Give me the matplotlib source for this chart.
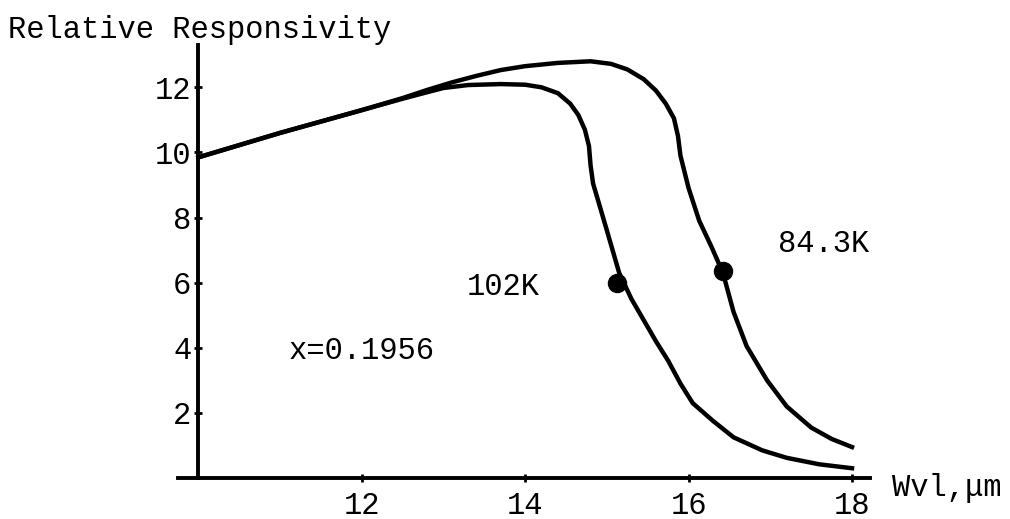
import matplotlib.pyplot as plt

plt.rcParams['font.family'] = ['Liberation Mono', 'DejaVu Sans Mono']

# 102K curve
wvl_102 = [10, 11, 12, 12.5, 12.8, 13.0, 13.3, 13.7, 14.0, 14.2, 14.4, 14.55,
           14.65, 14.73, 14.78, 14.8, 14.83, 15.0, 15.15, 15.3, 15.45, 15.6,
           15.75, 15.9, 16.05, 16.3, 16.55, 16.9, 17.2, 17.6, 18.0]
resp_102 = [9.85, 10.6, 11.3, 11.65, 11.85, 11.98, 12.07, 12.1, 12.08, 12.0, 11.82, 11.5,
            11.15, 10.7, 10.2, 9.6, 9.05, 7.6, 6.3, 5.5, 4.85, 4.2,
            3.6, 2.9, 2.3, 1.75, 1.25, 0.85, 0.62, 0.42, 0.3]

# 84.3K curve
wvl_84 = [10, 11, 12, 12.5, 12.8, 13.1, 13.4, 13.7, 14.0, 14.4, 14.8, 15.05,
          15.25, 15.45, 15.6, 15.72, 15.82, 15.87, 15.9, 16.0, 16.13, 16.28,
          16.42, 16.55, 16.71, 16.96, 17.2, 17.5, 17.75, 18.0]
resp_84 = [9.85, 10.6, 11.3, 11.67, 11.92, 12.15, 12.35, 12.53, 12.65, 12.75, 12.8, 12.72,
           12.55, 12.25, 11.9, 11.5, 11.05, 10.5, 9.9, 8.9, 7.9, 7.1,
           6.3, 5.1, 4.05, 3.0, 2.2, 1.55, 1.2, 0.95]

# marked points
dot_x = [15.12, 16.42]
dot_y = [6.0, 6.35]

x_ticks = [12, 14, 16, 18]
y_ticks = [2, 4, 6, 8, 10, 12]

fig = plt.figure(figsize=(10.1, 5.19), dpi=100)
ax = fig.add_axes([178 / 1010, 41 / 519, 692 / 1010, 433 / 519])

ax.plot(wvl_102, resp_102, color='black', lw=3.2, solid_joinstyle='round')
ax.plot(wvl_84, resp_84, color='black', lw=3.2, solid_joinstyle='round')
ax.plot(dot_x, dot_y, 'o', color='black', ms=13)

ax.set_xlim(9.75, 18.22)
ax.set_ylim(0, 13.3)

for s in ['top', 'right']:
    ax.spines[s].set_visible(False)
ax.spines['left'].set_position(('data', 10))
ax.spines['bottom'].set_position(('data', 0))
ax.spines['left'].set_linewidth(2.8)
ax.spines['bottom'].set_linewidth(2.8)

ax.set_xticks(x_ticks)
ax.set_yticks(y_ticks)
ax.tick_params(axis='both', direction='inout', length=6, width=2, labelsize=22)
ax.tick_params(axis='x', pad=6)
ax.tick_params(axis='y', pad=2)

ax.text(11.1, 3.9, 'x=0.1956', fontsize=22, va='center', ha='left')
ax.text(13.29, 5.86, '102K', fontsize=22, va='center', ha='left')
ax.text(17.09, 7.2, '84.3K', fontsize=22, va='center', ha='left')
ax.text(18.49, -0.3, 'Wvl,μm', fontsize=22, va='center', ha='left', clip_on=False)

fig.text(8 / 1010, 1 - 30 / 519, 'Relative Responsivity', fontsize=22,
         va='center', ha='left')

fig.savefig('out.png', dpi=100)
